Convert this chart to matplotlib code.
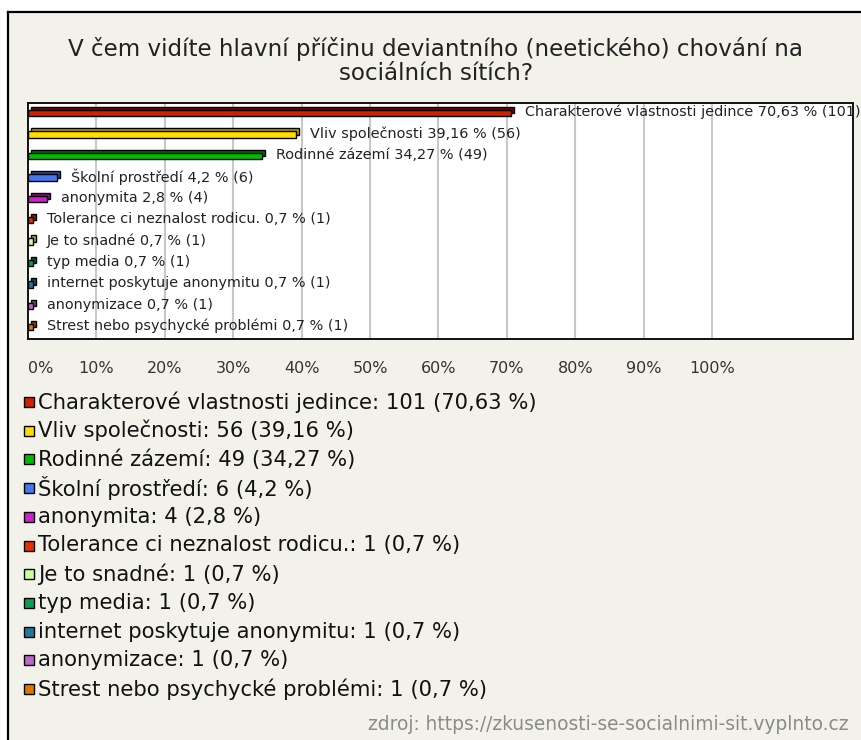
import matplotlib
matplotlib.use("Agg")
import matplotlib.pyplot as plt
import matplotlib.transforms as mtransforms
from matplotlib.patches import Rectangle

# ── Data ──────────────────────────────────────────────────────────────
TITLE = ("V čem vidíte hlavní příčinu deviantního (neetického) chování na\n"
         "sociálních sítích?")
SOURCE = "zdroj: https://zkusenosti-se-socialnimi-sit.vyplnto.cz"

categories = [
    "Charakterové vlastnosti jedince",
    "Vliv společnosti",
    "Rodinné zázemí",
    "Školní prostředí",
    "anonymita",
    "Tolerance ci neznalost rodicu.",
    "Je to snadné",
    "typ media",
    "internet poskytuje anonymitu",
    "anonymizace",
    "Strest nebo psychycké problémi",
]
counts = [101, 56, 49, 6, 4, 1, 1, 1, 1, 1, 1]
percents = [70.63, 39.16, 34.27, 4.2, 2.8, 0.7, 0.7, 0.7, 0.7, 0.7, 0.7]

front_colors = ["#cc2200", "#ffdd00", "#00bb00", "#4477ee", "#cc22cc",
                "#dd3300", "#ccff99", "#119955", "#227799", "#bb66cc", "#dd7700"]
top_colors = ["#7a0000", "#b89a00", "#006e00", "#2244aa", "#801080",
              "#882000", "#88aa66", "#0a5a33", "#144a60", "#774080", "#884400"]

x_ticks = [0, 10, 20, 30, 40, 50, 60, 70, 80, 90, 100]
x_ticklabels = [f"{t}%" for t in x_ticks]


def fmt(p):
    return f"{p:g}".replace(".", ",")


W, H = 861, 740
fig = plt.figure(figsize=(W / 100, H / 100), dpi=100)
fig.patch.set_facecolor("white")

# beige panel with black top/left border
fig.patches.append(Rectangle((8 / W, 0), 1, 1 - 12 / H, transform=fig.transFigure,
                             facecolor="#f3f2ea", edgecolor="none", zorder=-1))
fig.add_artist(plt.Line2D([8 / W, 8 / W], [0, 1 - 12 / H], transform=fig.transFigure,
                          color="black", lw=1.6))
fig.add_artist(plt.Line2D([8 / W, 1], [1 - 12 / H, 1 - 12 / H], transform=fig.transFigure,
                          color="black", lw=1.6))

fig.text(436 / W, 1 - 61 / H, TITLE, ha="center", va="center", fontsize=16.6,
         color="#222222", linespacing=1.1)

# plot area
left, right, top, bottom = 28, 853, 103, 339
ax = fig.add_axes([left / W, 1 - bottom / H, (right - left) / W, (bottom - top) / H])
ax.set_zorder(2)
ax.set_facecolor("white")
xmax = (right - left) / 68.4 * 10
ax.set_xlim(0, xmax)
n = len(categories)
ax.set_ylim(n - 0.45, -0.47)
for s in ax.spines.values():
    s.set_linewidth(1.4)
    s.set_color("#111111")

for g in x_ticks[1:]:
    ax.axvline(g, color="#c8c8c8", lw=1.5, zorder=0)

back = mtransforms.offset_copy(ax.transData, fig=fig, x=3, y=3, units="dots")
ypos = list(range(n))
ax.barh(ypos, percents, height=0.3, color=top_colors, edgecolor="black",
        linewidth=1.0, transform=back, zorder=2)
ax.barh(ypos, percents, height=0.3, color=front_colors, edgecolor="black",
        linewidth=1.0, zorder=3)

lbl = mtransforms.offset_copy(ax.transData, fig=fig, x=14, y=1, units="dots")
for y, name, p, c in zip(ypos, categories, percents, counts):
    ax.text(p, y, f"{name} {fmt(p)} % ({c})", transform=lbl, ha="left",
            va="center", fontsize=10.4, color="#222222", clip_on=False, zorder=4)

ax.set_yticks([])
ax.set_xticks(x_ticks)
ax.set_xticklabels(x_ticklabels, fontsize=11.5, color="#333333")
ax.tick_params(axis="x", length=0, pad=16)
ax.get_xticklabels()[0].set_horizontalalignment("left")

# legend
leg_y0, leg_dy = 402, 28.7
for i, (name, p, c, col) in enumerate(zip(categories, percents, counts, front_colors)):
    yc = leg_y0 + i * leg_dy
    fig.patches.append(Rectangle((24 / W, 1 - (yc + 5) / H), 10 / W, 10 / H,
                                 transform=fig.transFigure, facecolor=col,
                                 edgecolor="black", lw=1.0))
    fig.text(38 / W, 1 - yc / H, f"{name}: {c} ({fmt(p)} %)", ha="left",
             va="center", fontsize=15.2, color="#111111")

fig.text(848 / W, 1 - 724 / H, SOURCE, ha="right", va="center",
         fontsize=13.4, color="#8a8a8a")

fig.savefig("out.png", dpi=100)
